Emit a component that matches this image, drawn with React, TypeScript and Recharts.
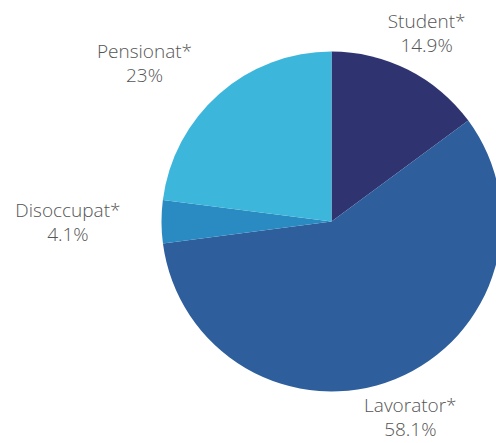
import * as React from "react"
import { PieChart, Pie, Cell } from "recharts"

const categories = ["Student*", "Lavorator*", "Disoccupat*", "Pensionat*"]
const shares = [14.9, 58.1, 4.1, 23]
const colors = ["#2f3470", "#2e5f9c", "#2a8ac2", "#3db6db"]

const data = categories.map((name, i) => ({ name, value: shares[i] }))

const RADIAN = Math.PI / 180
const FONT = "300 19px 'Open Sans'"

let ctx: CanvasRenderingContext2D | null = null
function textWidth(s: string) {
    if (!ctx) ctx = document.createElement("canvas").getContext("2d")
    if (!ctx) return s.length * 9.5
    ctx.font = FONT
    return ctx.measureText(s).width
}

function SliceLabel(props: any) {
    const { cx, cy, midAngle, outerRadius, name, value } = props
    const r = outerRadius + 41
    const cos = Math.cos(-midAngle * RADIAN)
    let x = cx + r * cos
    const y = cy + r * Math.sin(-midAngle * RADIAN)
    const pct = `${value}%`
    // side labels: block hugs the anchor point, lines centred inside it
    if (Math.abs(cos) > 0.5) {
        const w = Math.max(textWidth(name), textWidth(pct))
        x += cos < 0 ? -w / 2 : w / 2
    }
    return (
        <text
            x={x}
            y={y}
            textAnchor="middle"
            fill="#555"
            fontSize={19}
            fontWeight={300}
            fontFamily="'Open Sans', sans-serif"
        >
            <tspan x={x} y={y - 5}>{name}</tspan>
            <tspan x={x} y={y + 19}>{pct}</tspan>
        </text>
    )
}

export default function App() {
    return (
        <div style={{ position: "absolute", left: 0, top: 0, width: 496, height: 443, background: "#fff" }}>
            <PieChart width={496} height={443} margin={{ top: 0, right: 0, bottom: 0, left: 0 }}>
                <Pie
                    data={data}
                    dataKey="value"
                    nameKey="name"
                    cx={331.5}
                    cy={221.5}
                    outerRadius={170}
                    startAngle={90}
                    endAngle={-270}
                    stroke="none"
                    label={SliceLabel}
                    labelLine={false}
                    isAnimationActive={false}
                >
                    {data.map((d, i) => (
                        <Cell key={d.name} fill={colors[i]} />
                    ))}
                </Pie>
            </PieChart>
        </div>
    )
}
